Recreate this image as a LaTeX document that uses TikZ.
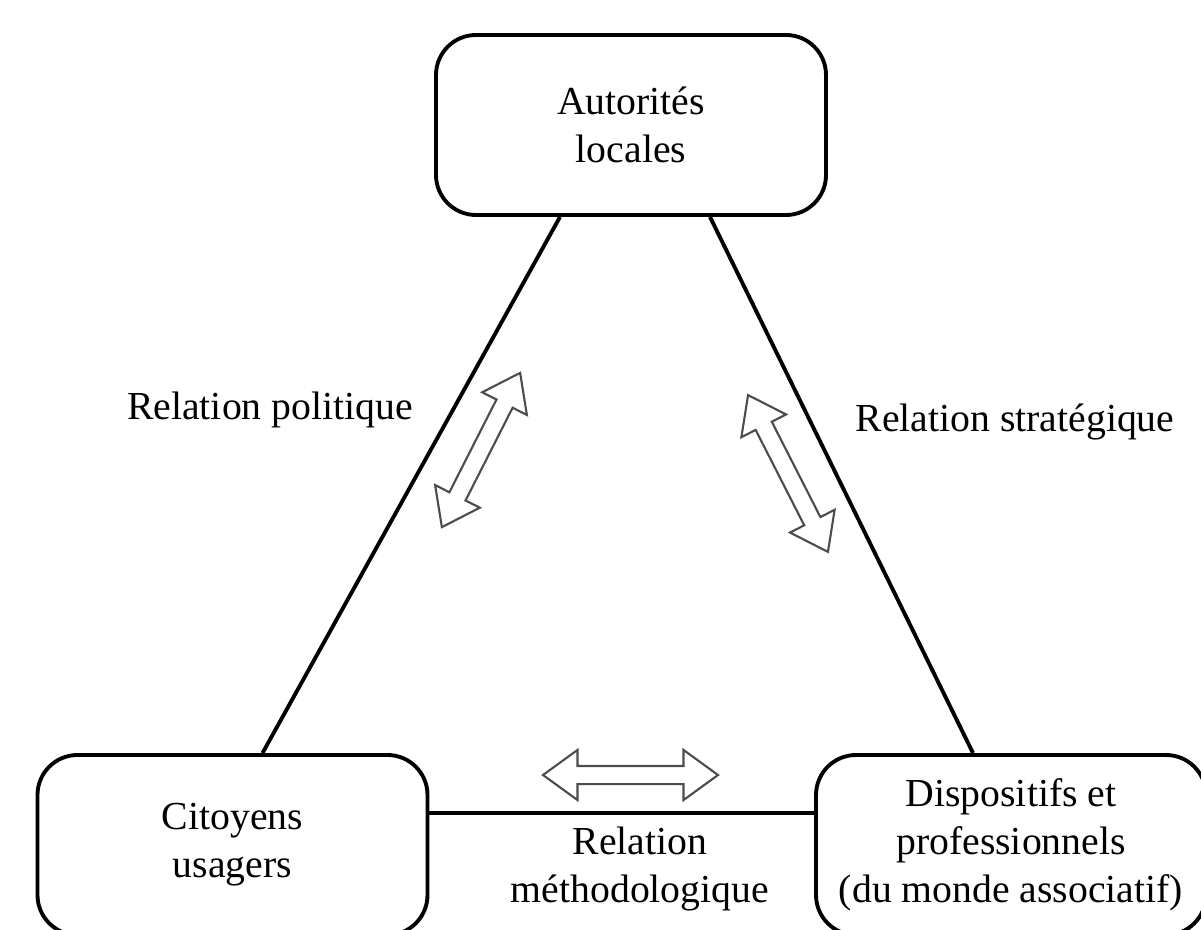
\documentclass[tikz,border=0pt]{standalone}
\usepackage{fontspec}
\setmainfont{Liberation Serif}
\usepackage{tikz}
\usetikzlibrary{shapes.arrows, calc, positioning}

\begin{document}
\begin{tikzpicture}[
            font=\fontsize{11.3}{13.7}\selectfont,
            actor/.style={rectangle, rounded corners=0.4cm, draw=black, line width=1.1pt,
                          minimum width=3.9cm, minimum height=1.8cm, align=center},
            link/.style={draw=black, line width=1.1pt},
            flow/.style={double arrow, draw=black!70, line width=0.6pt,
                         inner xsep=0pt, inner ysep=0.08cm,
                         double arrow head extend=0.16cm,
                         double arrow tip angle=72},
            relation/.style={align=center}
        ]

        \useasboundingbox (0, 0) rectangle (12.01, 9.29);

        % Actors
        \node[actor] (auto) at (6.31, 8.04) {Autorités\\locales};
        \node[actor] (cit) at (2.325, 0.84) {Citoyens\\usagers};
        \node[actor] (disp) at (10.11, 0.84) {Dispositifs et\\professionnels\\(du monde associatif)};

        % Sides of the triangle
        \draw[link] ($(auto.south)+(-0.71,0)$) -- ($(cit.north)+(0.30,0)$);
        \draw[link] ($(auto.south)+(0.79,0)$) -- ($(disp.north)+(-0.38,0)$);
        \draw[link] ($(cit.east)+(0,0.32)$) -- ($(disp.west)+(0,0.32)$);

        % Exchanges
        \node[flow, minimum height=1.73cm, rotate=63.1] (F-pol) at (4.81, 4.79) {};
        \node[flow, minimum height=1.76cm, rotate=-63] (F-str) at (7.88, 4.555) {};
        \node[flow, minimum height=1.75cm] (F-met) at (6.305, 1.54) {};

        % Labels
        \node[relation] (L-pol) at (2.70, 5.19) {Relation politique};
        \node[relation] (L-str) at (10.15, 5.07) {Relation stratégique};
        \node[relation] (L-met) at (6.40, 0.60) {Relation\\méthodologique};

    \end{tikzpicture}
\end{document}
